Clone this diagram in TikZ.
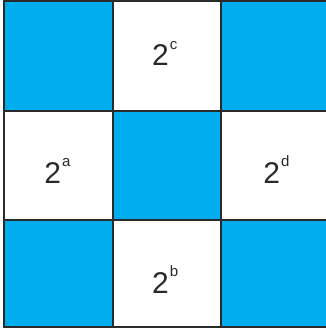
\documentclass[tikz,border=0pt]{standalone}
\usepackage{fontspec}
\setmainfont{Liberation Sans}
\definecolor{cellblue}{HTML}{00AEEF}
\definecolor{gridline}{HTML}{2A2A2A}
\tikzset{
  bluecell/.style={fill=cellblue, draw=none},
  gridstroke/.style={draw=gridline, line width=2pt},
  powlabel/.style={font=\fontsize{30}{30}\selectfont, inner sep=0pt, anchor=base west, text=gridline}
}
\newcommand{\pw}[1]{2\kern1.2pt\raisebox{16.5pt}{\fontsize{15}{15}\selectfont #1}}
\begin{document}
\begin{tikzpicture}[x=1pt,y=-1pt]
\useasboundingbox (0,0) rectangle (326,329);
\clip (0,0) rectangle (326,329);
% blue cells
\fill[bluecell] (4,1.5) rectangle (112.5,110.5);
\fill[bluecell] (221,1.5) rectangle (330,110.5);
\fill[bluecell] (112.5,110.5) rectangle (221,220);
\fill[bluecell] (4,220) rectangle (112.5,327);
\fill[bluecell] (221,220) rectangle (330,327);
% grid
\draw[gridstroke] (4,1.5) rectangle (329.5,327);
\draw[gridstroke] (112.5,1.5) -- (112.5,327);
\draw[gridstroke] (221,1.5) -- (221,327);
\draw[gridstroke] (4,110.5) -- (329.5,110.5);
\draw[gridstroke] (4,220) -- (329.5,220);
% labels
\node[powlabel] (c) at (151.8,66) {\pw{c}};
\node[powlabel] (a) at (44.1,183.3) {\pw{a}};
\node[powlabel] (d) at (263.1,183) {\pw{d}};
\node[powlabel] (b) at (151.8,293.3) {\pw{b}};
\end{tikzpicture}
\end{document}
